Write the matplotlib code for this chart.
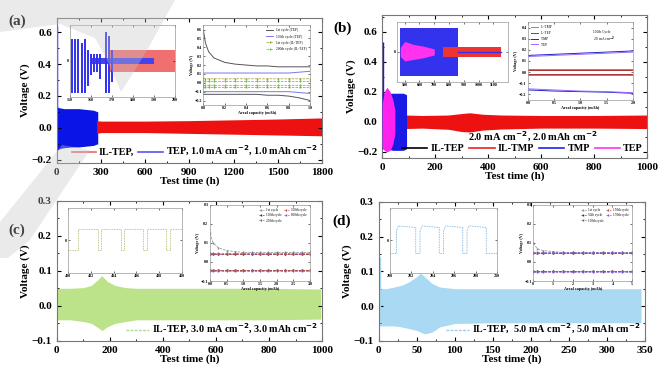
import numpy as np
import matplotlib
matplotlib.use("Agg")
import matplotlib.pyplot as plt
from matplotlib.lines import Line2D
from matplotlib.patches import Polygon
from matplotlib.ticker import AutoMinorLocator

plt.rcParams["font.family"] = ["Liberation Serif", "DejaVu Serif"]
plt.rcParams["font.weight"] = "bold"
plt.rcParams["axes.labelweight"] = "bold"
plt.rcParams["mathtext.default"] = "bf"

# ---------------- data ----------------
# (a) 1.0 mA cm-2
a_tep_t = [0, 5, 20, 50, 100, 150, 200, 250, 278]
a_tep_hi = [0.14, 0.13, 0.125, 0.12, 0.12, 0.12, 0.115, 0.11, 0.10]
a_tep_lo = [-0.15, -0.14, -0.13, -0.125, -0.12, -0.12, -0.115, -0.11, -0.10]
a_tep_spike = [2, -0.05, 0.64]
a_il_t = [270, 300, 600, 900, 1200, 1500, 1800]
a_il_hi = [0.045, 0.042, 0.042, 0.045, 0.05, 0.055, 0.062]
a_il_lo = [-0.035, -0.03, -0.03, -0.035, -0.04, -0.045, -0.05]

# (b) 2.0 mA cm-2
b_tmp_t = [0, 20, 40, 60, 80, 92]
b_tmp_hi = [0.19, 0.19, 0.19, 0.19, 0.19, 0.18]
b_tmp_lo = [-0.18, -0.18, -0.19, -0.19, -0.19, -0.18]
b_tmp_spike = [2, -0.05, 0.53]
b_tep_t = [0, 8, 18, 30, 40, 48]
b_tep_hi = [0.12, 0.2, 0.23, 0.2, 0.15, 0.08]
b_tep_lo = [-0.17, -0.19, -0.2, -0.19, -0.15, -0.08]
b_iltmp_t = [88, 150, 250, 300, 330, 380, 450, 600, 800, 1000]
b_iltmp_hi = [0.045, 0.042, 0.045, 0.055, 0.06, 0.05, 0.045, 0.042, 0.042, 0.045]
b_iltmp_lo = [-0.045, -0.042, -0.05, -0.065, -0.068, -0.055, -0.048, -0.042, -0.042, -0.045]
b_iltep_t = [88, 500, 1000]
b_iltep_hi = [0.03, 0.03, 0.03]
b_iltep_lo = [-0.03, -0.03, -0.03]

# (c) 3.0 mA cm-2
c_t = [0, 50, 100, 130, 155, 170, 190, 220, 260, 300, 400, 600, 800, 995]
c_hi = [0.05, 0.05, 0.052, 0.058, 0.075, 0.086, 0.07, 0.058, 0.052, 0.05, 0.05, 0.05, 0.05, 0.048]
c_lo = [-0.04, -0.04, -0.045, -0.05, -0.062, -0.071, -0.06, -0.05, -0.045, -0.04, -0.04, -0.04, -0.04, -0.038]

# (d) 5.0 mA cm-2
d_t = [0, 10, 20, 30, 40, 50, 55, 60, 70, 80, 100, 150, 200, 250, 300, 345]
d_hi = [0.05, 0.05, 0.055, 0.06, 0.07, 0.085, 0.095, 0.085, 0.065, 0.055, 0.05, 0.05, 0.05, 0.05, 0.05, 0.05]
d_lo = [-0.057, -0.057, -0.057, -0.06, -0.065, -0.07, -0.075, -0.08, -0.075, -0.06, -0.05, -0.048, -0.048, -0.048, -0.048, -0.048]
d_spike = [1, -0.05, 0.14]

# insets, (a) left: zoomed voltage-time
ai_blue_t = [151, 152.5, 154, 155.5, 157, 158.5, 160, 161.5, 163, 164.5, 167, 168.5, 170]
ai_blue_hi = [0.6, 0.6, 0.6, 0.5, 0.6, 0.3, 0.2, 0.2, 0.2, 0.2, 0.8, 0.7, 0.3]
ai_blue_lo = [-0.9, -0.9, -0.9, -0.9, -0.9, -0.7, -0.4, -0.3, -0.3, -0.5, -0.9, -0.9, -0.6]
ai_red_t = [168, 200]
ai_red_hi = [0.3, 0.3]
ai_red_lo = [-0.3, -0.3]
ai_blue_band_t = [160, 190]
ai_blue_band = [0.08, -0.08]

# (a) right: voltage profiles
ar_cap = [0.0, 0.02, 0.05, 0.1, 0.2, 0.3, 0.4, 0.5, 0.6, 0.7, 0.8, 0.9, 1.0]
ar_tep1_ch = [0.6, 0.45, 0.35, 0.28, 0.23, 0.21, 0.2, 0.19, 0.19, 0.18, 0.18, 0.18, 0.18]
ar_tep1_dis = [-0.13, -0.13, -0.13, -0.13, -0.13, -0.13, -0.13, -0.13, -0.14, -0.14, -0.15, -0.17, -0.2]
ar_tep100_ch = [0.11, 0.11, 0.11, 0.11, 0.11, 0.11, 0.11, 0.11, 0.11, 0.11, 0.11, 0.12, 0.13]
ar_tep100_dis = [-0.1, -0.1, -0.1, -0.1, -0.1, -0.1, -0.1, -0.1, -0.1, -0.1, -0.1, -0.11, -0.12]
ar_il1_ch = [0.05, 0.045, 0.045, 0.045, 0.045, 0.045, 0.045, 0.045, 0.045, 0.045, 0.045, 0.045, 0.045]
ar_il1_dis = [-0.045] * 13
ar_il200_ch = [0.02] * 13
ar_il200_dis = [-0.02] * 13
ar_labels = ["1st cycle (TEP)", "100th cycle (TEP)", "1st cycle (IL-TEP)", "200th cycle (IL-TEP)"]

# (b) left: zoomed voltage-time
bi_tmp_t = [470, 860]
bi_tmp_hi = [0.8, 0.8]
bi_tmp_lo = [-0.8, -0.8]
bi_tep_t = [470, 500, 560, 620, 700]
bi_tep_hi = [0.15, 0.35, 0.25, 0.2, 0.1]
bi_tep_lo = [-0.15, -0.3, -0.25, -0.2, -0.1]
bi_red_t = [760, 1150]
bi_red_hi = [0.18, 0.18]
bi_red_lo = [-0.18, -0.18]

# (b) right: 100th cycle profiles
br_cap = [0.0, 0.5, 1.0, 1.5, 2.0]
br_iltmp_ch = [0.03, 0.03, 0.03, 0.03, 0.03]
br_iltmp_dis = [-0.03, -0.03, -0.03, -0.03, -0.03]
br_iltep_ch = [0.02, 0.02, 0.02, 0.02, 0.02]
br_iltep_dis = [-0.02, -0.02, -0.02, -0.02, -0.02]
br_tmp_ch = [0.15, 0.16, 0.17, 0.18, 0.19]
br_tmp_dis = [-0.16, -0.17, -0.175, -0.18, -0.19]
br_tep_ch = [0.14, 0.15, 0.16, 0.17, 0.18]
br_tep_dis = [-0.15, -0.16, -0.17, -0.175, -0.185]

# (c) left: square wave, (c) right: profiles
ci_t = [400, 400.9, 400.9, 402.6, 402.6, 402.9, 402.9, 404.6, 404.6, 404.9, 404.9, 406.6, 406.6, 406.9, 406.9, 408.6, 408.6, 408.9, 408.9, 410]
ci_v = [-0.03, -0.03, 0.035, 0.035, -0.03, -0.03, 0.035, 0.035, -0.03, -0.03, 0.035, 0.035, -0.03, -0.03, 0.035, 0.035, -0.03, -0.03, 0.035, 0.035]
cr_cap = [0.0, 0.1, 0.25, 0.5, 0.75, 1.0, 1.25, 1.5, 1.75, 2.0, 2.25, 2.5, 2.75, 3.0]
cr_first = [0.15, 0.1, 0.075, 0.06, 0.055, 0.05, 0.05, 0.05, 0.05, 0.05, 0.05, 0.05, 0.05, 0.05]
cr_upper = [0.04] * 14
cr_lower = [-0.04] * 14
cr_labels = ["1st cycle", "100th cycle", "200th cycle", "500th cycle", "800th cycle"]

# (d) left: square wave, (d) right: profiles
di_t = [200, 200.6, 200.6, 200.8, 202.4, 202.4, 202.8, 202.8, 203.0, 204.6, 204.6, 205.0, 205.0, 205.2, 206.8, 206.8, 207.2, 207.2, 207.4, 209.0, 209.0, 210]
di_v = [-0.04, -0.04, 0.03, 0.045, 0.04, -0.04, -0.04, 0.03, 0.045, 0.04, -0.04, -0.04, 0.03, 0.045, 0.04, -0.04, -0.04, 0.03, 0.045, 0.04, -0.04, -0.04]
dr_cap = [0.0, 0.2, 0.5, 1.0, 1.5, 2.0, 2.5, 3.0, 3.5, 4.0, 4.5, 5.0]
dr_first = [0.1, 0.07, 0.06, 0.055, 0.05, 0.05, 0.05, 0.05, 0.05, 0.05, 0.05, 0.05]
dr_upper = [0.045] * 12
dr_lower = [-0.045] * 12
dr_labels = ["1st cycle", "50th cycle", "100th cycle", "150th cycle", "170th cycle"]

GREEN = "#bde38a"
LBLUE = "#a9d9f3"

fig = plt.figure(figsize=(6.6, 3.86), dpi=100)


def style_main(ax, xlim, ylim, xticks, yticks):
    ax.set_xlim(*xlim)
    ax.set_ylim(*ylim)
    ax.set_xticks(xticks)
    ax.set_yticks(yticks)
    ax.xaxis.set_minor_locator(AutoMinorLocator(2))
    ax.yaxis.set_minor_locator(AutoMinorLocator(2))
    ax.tick_params(which="both", direction="in", top=True, right=True, labelsize=8)
    ax.tick_params(which="major", length=3)
    ax.tick_params(which="minor", length=1.5)
    for s in ax.spines.values():
        s.set_color("#777777")
        s.set_linewidth(0.8)
    ax.set_xlabel("Test time (h)", fontsize=8, labelpad=0)
    ax.set_ylabel("Voltage (V)", fontsize=8, labelpad=1)


def style_inset(ax, xlim, ylim, xticks, yticks, xlabel=None, ylabel=None, fmt=None):
    ax.set_xlim(*xlim)
    ax.set_ylim(*ylim)
    ax.set_xticks(xticks)
    ax.set_yticks(yticks)
    if fmt:
        ax.set_xticklabels([fmt.format(v) for v in xticks])
    ax.tick_params(direction="in", labelsize=3, length=1.2, pad=1, width=0.4, top=True, right=True)
    for s in ax.spines.values():
        s.set_color("#999999")
        s.set_linewidth(0.5)
    if xlabel:
        ax.set_xlabel(xlabel, fontsize=3, labelpad=0.5)
    if ylabel:
        ax.set_ylabel(ylabel, fontsize=3, labelpad=0.5)


# ---------- (a) ----------
ax = fig.add_axes([0.086, 0.578, 0.402, 0.376])
ax.fill_between(a_tep_t, a_tep_lo, a_tep_hi, color="#0a14e6", lw=0)
ax.vlines(a_tep_spike[0], a_tep_spike[1], a_tep_spike[2], color="#0a14e6", lw=1)
ax.fill_between(a_il_t, a_il_lo, a_il_hi, color="#ee1111", lw=0)
style_main(ax, (0, 1800), (-0.22, 0.69), [0, 300, 600, 900, 1200, 1500, 1800], [-0.2, 0.0, 0.2, 0.4, 0.6])
h = [Line2D([], [], color="#ee6666", lw=1.2), Line2D([], [], color="#5555ee", lw=1.2)]
ax.legend(h, ["IL-TEP,", "TEP, 1.0 mA cm$^{-2}$, 1.0 mAh cm$^{-2}$"], ncol=2, frameon=False,
          loc="lower right", handlelength=2.4, columnspacing=0.4, handletextpad=0.3,
          borderaxespad=0.05, prop={"weight": "bold", "size": 7.3})
fig.text(0.012, 0.935, "(a)", fontsize=11, fontweight="bold")

ia = fig.add_axes([0.106, 0.749, 0.159, 0.187])
ia.vlines(ai_blue_t, ai_blue_lo, ai_blue_hi, color="#3030ee", lw=1.4)
ia.fill_between(ai_red_t, ai_red_lo, ai_red_hi, color="#f07070", lw=0)
ia.fill_between(ai_blue_band_t, [ai_blue_band[1]] * 2, [ai_blue_band[0]] * 2, color="#4444ee", lw=0)
style_inset(ia, (150, 200), (-1, 1), [150, 160, 170, 180, 190, 200], [0.0], fmt="{:.0f}")

ra = fig.add_axes([0.308, 0.728, 0.162, 0.207])
ra.plot(ar_cap, ar_tep1_ch, color="#555555", lw=0.7, label=ar_labels[0])
ra.plot(ar_cap, ar_tep1_dis, color="#555555", lw=0.7)
ra.plot(ar_cap, ar_tep100_ch, color="#7777ee", lw=0.7, label=ar_labels[1])
ra.plot(ar_cap, ar_tep100_dis, color="#7777ee", lw=0.7)
ra.plot(ar_cap, ar_il1_ch, color="#999933", lw=0.5, ls="--", marker="|", ms=1.5, label=ar_labels[2])
ra.plot(ar_cap, ar_il1_dis, color="#999933", lw=0.5, ls="--", marker="|", ms=1.5)
ra.plot(ar_cap, ar_il200_ch, color="#66bb44", lw=0.5, ls="--", marker="|", ms=1.5, label=ar_labels[3])
ra.plot(ar_cap, ar_il200_dis, color="#66bb44", lw=0.5, ls="--", marker="|", ms=1.5)
style_inset(ra, (0, 1.0), (-0.25, 0.65), [0.0, 0.2, 0.4, 0.6, 0.8, 1.0],
            [-0.2, -0.1, 0.0, 0.1, 0.2, 0.3, 0.4, 0.5, 0.6], "Areal capacity (mAh)", "Voltage (V)", "{:.1f}")
ra.legend(loc="upper right", frameon=False, handlelength=2, labelspacing=0.6,
          prop={"size": 2.6, "weight": "normal"})

# ---------- (b) ----------
bx = fig.add_axes([0.579, 0.591, 0.402, 0.370])
bx.fill_between(b_iltep_t, b_iltep_lo, b_iltep_hi, color="black", lw=0, zorder=1)
bx.fill_between(b_iltmp_t, b_iltmp_lo, b_iltmp_hi, color="#ee1111", lw=0, zorder=2)
bx.fill_between(b_tmp_t, b_tmp_lo, b_tmp_hi, color="#1a1ae6", lw=0, zorder=3)
bx.vlines(b_tmp_spike[0], b_tmp_spike[1], b_tmp_spike[2], color="#1a1ae6", lw=1, zorder=3)
bx.fill_between(b_tep_t, b_tep_lo, b_tep_hi, color="#ff22ee", lw=0, zorder=4)
style_main(bx, (0, 1000), (-0.24, 0.71), [0, 200, 400, 600, 800, 1000], [-0.2, 0.0, 0.2, 0.4, 0.6])
bx.text(570, -0.1, "2.0 mA cm$^{-2}$, 2.0 mAh cm$^{-2}$", ha="center", va="center", fontsize=7.5)
h = [Line2D([], [], color=c, lw=1.2) for c in ["black", "#ee2222", "#2222ee", "#ff33ee"]]
bx.legend(h, ["IL-TEP", "IL-TMP", "TMP", "TEP"], ncol=4, frameon=False, loc="lower right",
          handlelength=2.5, columnspacing=0.5, handletextpad=0.3, borderaxespad=0.05,
          prop={"weight": "bold", "size": 7.3})
fig.text(0.505, 0.918, "(b)", fontsize=11, fontweight="bold")

ib = fig.add_axes([0.602, 0.788, 0.168, 0.155])
ib.fill_between(bi_tmp_t, bi_tmp_lo, bi_tmp_hi, color="#3333ee", lw=0)
ib.fill_between(bi_red_t, bi_red_lo, bi_red_hi, color="#ee3333", lw=0)
ib.fill_between(bi_tep_t, bi_tep_lo, bi_tep_hi, color="#ff33ee", lw=0)
ib.plot([860, 1150], [0, 0], color="#3333ee", lw=1)
style_inset(ib, (450, 1200), (-1, 1), [500, 600, 700, 800, 900, 1000, 1100], [0.0], fmt="{:.0f}")

rb = fig.add_axes([0.800, 0.741, 0.159, 0.202])
rb.plot(br_cap, br_iltmp_ch, color="#dd6666", lw=0.7, label="IL-TMP")
rb.plot(br_cap, br_iltmp_dis, color="#dd6666", lw=0.7)
rb.plot(br_cap, br_iltep_ch, color="#aa3333", lw=0.7, label="IL-TEP")
rb.plot(br_cap, br_iltep_dis, color="#aa3333", lw=0.7)
rb.plot(br_cap, br_tmp_ch, color="#2222cc", lw=0.7, label="TMP")
rb.plot(br_cap, br_tmp_dis, color="#2222cc", lw=0.7)
rb.plot(br_cap, br_tep_ch, color="#9966ff", lw=0.7, label="TEP")
rb.plot(br_cap, br_tep_dis, color="#9966ff", lw=0.7)
style_inset(rb, (0, 2.0), (-0.25, 0.45), [0.0, 0.5, 1.0, 1.5, 2.0],
            [-0.2, -0.1, 0.0, 0.1, 0.2, 0.3, 0.4], "Areal capacity (mAh)", "Voltage (V)", "{:.1f}")
rb.legend(loc="upper left", frameon=False, handlelength=2, labelspacing=0.5,
          prop={"size": 2.6, "weight": "normal"})
rb.text(0.62, 0.86, "100th Cycle", transform=rb.transAxes, fontsize=2.6, fontweight="normal")
rb.text(0.62, 0.76, "2.0 mA cm$^{-2}$", transform=rb.transAxes, fontsize=2.6, fontweight="normal")

# ---------- (c) ----------
cx = fig.add_axes([0.086, 0.117, 0.402, 0.363])
cx.fill_between(c_t, c_lo, c_hi, color=GREEN, lw=0)
style_main(cx, (0, 1000), (-0.1, 0.3), [0, 200, 400, 600, 800, 1000], [-0.1, 0.0, 0.1, 0.2, 0.3])
h = [Line2D([], [], color="#b0d890", lw=1, ls=(0, (2, 1)))]
cx.legend(h, ["IL-TEP, 3.0 mA cm$^{-2}$, 3.0 mAh cm$^{-2}$"], frameon=False, loc="lower right",
          handlelength=2.2, handletextpad=0.3, borderaxespad=0.05, prop={"weight": "bold", "size": 7.3})
fig.text(0.012, 0.395, "(c)", fontsize=11, fontweight="bold")

ic = fig.add_axes([0.103, 0.293, 0.173, 0.168])
ic.plot(ci_t, ci_v, color="#a8b860", lw=0.6, ls=(0, (1, 1)))
style_inset(ic, (400, 410), (-0.1, 0.1), [400, 402, 404, 406, 408, 410], [0.0], fmt="{:.0f}")

rc = fig.add_axes([0.318, 0.272, 0.152, 0.197])
rc.plot(cr_cap, cr_first, color="#888888", lw=0.5, ls="--", marker="|", ms=1.2, label=cr_labels[0])
for i, col in enumerate(["#333333", "#666666", "#cc4444", "#7755cc"]):
    rc.plot(cr_cap, [v + 0.002 * i for v in cr_upper], color=col, lw=0.5, ls="--", marker="|",
            ms=1.2, label=cr_labels[i + 1])
    rc.plot(cr_cap, [v - 0.002 * i for v in cr_lower], color=col, lw=0.5, ls="--", marker="|", ms=1.2)
style_inset(rc, (0, 3.0), (-0.1, 0.3), [0.0, 0.5, 1.0, 1.5, 2.0, 2.5, 3.0],
            [-0.1, 0.0, 0.1, 0.2, 0.3], "Areal capacity (mAh)", "Voltage (V)", "{:.1f}")
rc.legend(loc="upper right", ncol=2, frameon=False, handlelength=1.5, columnspacing=0.5,
          labelspacing=0.4, prop={"size": 2.4, "weight": "normal"})

# ---------- (d) ----------
dx = fig.add_axes([0.574, 0.117, 0.403, 0.360])
dx.fill_between(d_t, d_lo, d_hi, color=LBLUE, lw=0)
dx.vlines(d_spike[0], d_spike[1], d_spike[2], color=LBLUE, lw=1)
style_main(dx, (0, 350), (-0.1, 0.3), [0, 50, 100, 150, 200, 250, 300, 350], [-0.1, 0.0, 0.1, 0.2, 0.3])
h = [Line2D([], [], color="#99ccee", lw=1, ls=(0, (2, 1)))]
dx.legend(h, ["IL-TEP,  5.0 mA cm$^{-2}$, 5.0 mAh cm$^{-2}$"], frameon=False, loc="lower right",
          handlelength=2.2, handletextpad=0.3, borderaxespad=0.05, prop={"weight": "bold", "size": 7.3})
fig.text(0.503, 0.417, "(d)", fontsize=11, fontweight="bold")

idd = fig.add_axes([0.591, 0.293, 0.162, 0.168])
idd.plot(di_t, di_v, color="#66aadd", lw=0.6, ls=(0, (1, 1)))
style_inset(idd, (200, 210), (-0.1, 0.1), [200, 202, 204, 206, 208, 210], [0.0], fmt="{:.0f}")

rd = fig.add_axes([0.808, 0.272, 0.150, 0.197])
rd.plot(dr_cap, dr_first, color="#888888", lw=0.5, ls="--", marker="|", ms=1.2, label=dr_labels[0])
for i, col in enumerate(["#333333", "#666666", "#cc4444", "#7755cc"]):
    rd.plot(dr_cap, [v + 0.002 * i for v in dr_upper], color=col, lw=0.5, ls="--", marker="|",
            ms=1.2, label=dr_labels[i + 1])
    rd.plot(dr_cap, [v - 0.002 * i for v in dr_lower], color=col, lw=0.5, ls="--", marker="|", ms=1.2)
style_inset(rd, (0, 5), (-0.1, 0.3), [0, 1, 2, 3, 4, 5],
            [-0.1, 0.0, 0.1, 0.2, 0.3], "Areal capacity (mAh)", "Voltage (V)", "{:.0f}")
rd.legend(loc="upper right", ncol=2, frameon=False, handlelength=1.5, columnspacing=0.5,
          labelspacing=0.4, prop={"size": 2.4, "weight": "normal"})

# ---------- faint grey watermark shapes (pixel coords of the picture) ----------
W, H = 660.0, 386.0
shapes = [
    [(0, 0), (175, 0), (165, 18), (150, 45), (132, 75), (121, 92), (108, 62), (95, 38), (60, 24), (0, 32)],
    [(62, 145), (90, 150), (30, 240), (8, 258), (0, 258), (0, 222)],
]
for pts in shapes:
    fig.patches.append(Polygon([(x / W, 1 - y / H) for x, y in pts], closed=True,
                               transform=fig.transFigure, facecolor="#c4c4c4", alpha=0.35,
                               edgecolor="none", zorder=10))

fig.savefig("out.png", dpi=100)
